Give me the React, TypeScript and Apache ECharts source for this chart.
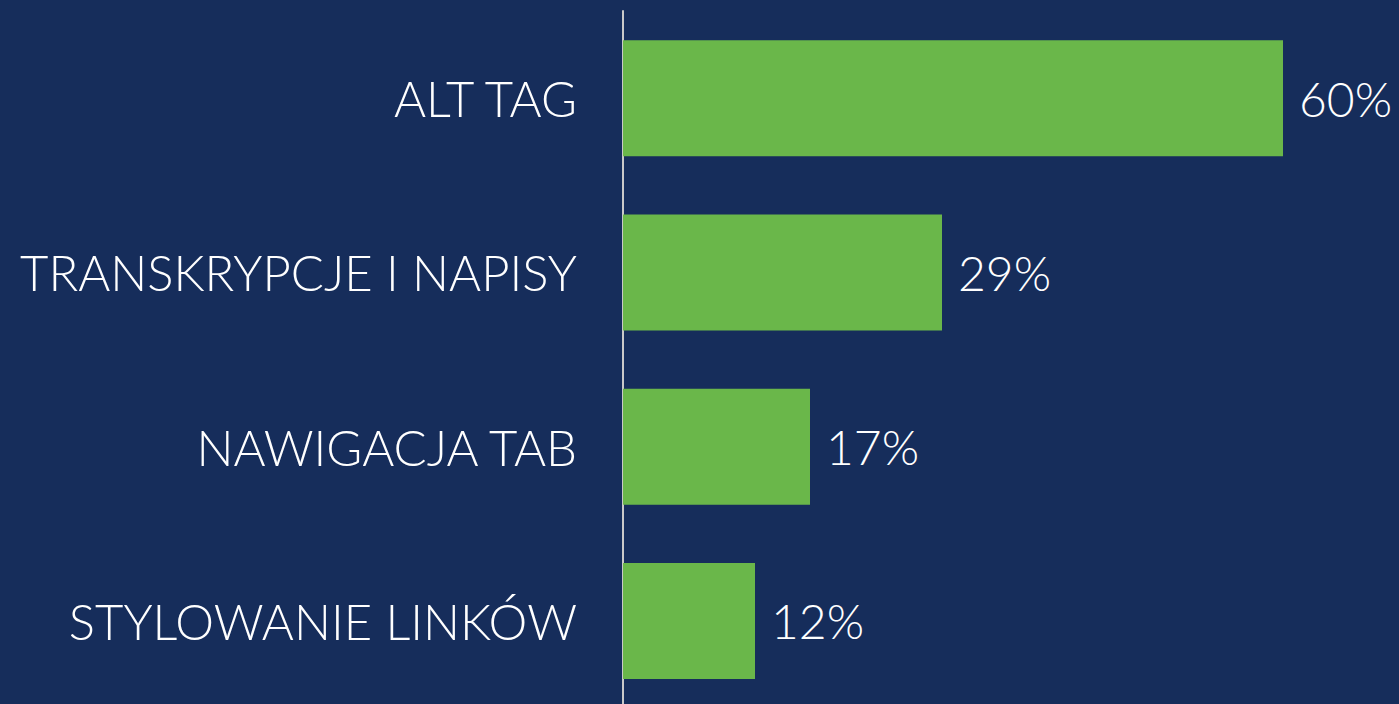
import React, { useEffect, useRef } from "react";
import * as echarts from "echarts";

const categories = ["ALT TAG", "TRANSKRYPCJE I NAPISY", "NAWIGACJA TAB", "STYLOWANIE LINKÓW"];
const values = [60, 29, 17, 12];

export default function App() {
  const ref = useRef<HTMLDivElement>(null);
  useEffect(() => {
    const chart = echarts.init(ref.current!, null, { renderer: "svg" });
    chart.setOption({
      animation: false,
      backgroundColor: "#162D5B",
      textStyle: { fontFamily: "Lato" },
      grid: { left: 623, top: 11, width: 770, height: 697 },
      xAxis: {
        type: "value",
        min: 0,
        max: 70,
        show: false,
      },
      yAxis: {
        type: "category",
        data: categories,
        inverse: true,
        axisLine: { show: true, lineStyle: { color: "#c9c9c9", width: 2 } },
        axisTick: { show: false },
        axisLabel: {
          color: "#ffffff",
          fontSize: 49,
          fontFamily: "Lato",
          fontWeight: 300,
          margin: 46,
        },
      },
      series: [
        {
          type: "bar",
          data: values,
          barWidth: 116,
          itemStyle: { color: "#6AB74A" },
          label: {
            show: true,
            position: "right",
            distance: 16,
            formatter: "{c}%",
            color: "#ffffff",
            fontSize: 48,
            fontFamily: "Lato",
            fontWeight: 300,
          },
        },
      ],
    });
    return () => chart.dispose();
  }, []);
  return (
    <div
      ref={ref}
      style={{ position: "fixed", left: 0, top: 0, width: 1399, height: 712 }}
    />
  );
}
